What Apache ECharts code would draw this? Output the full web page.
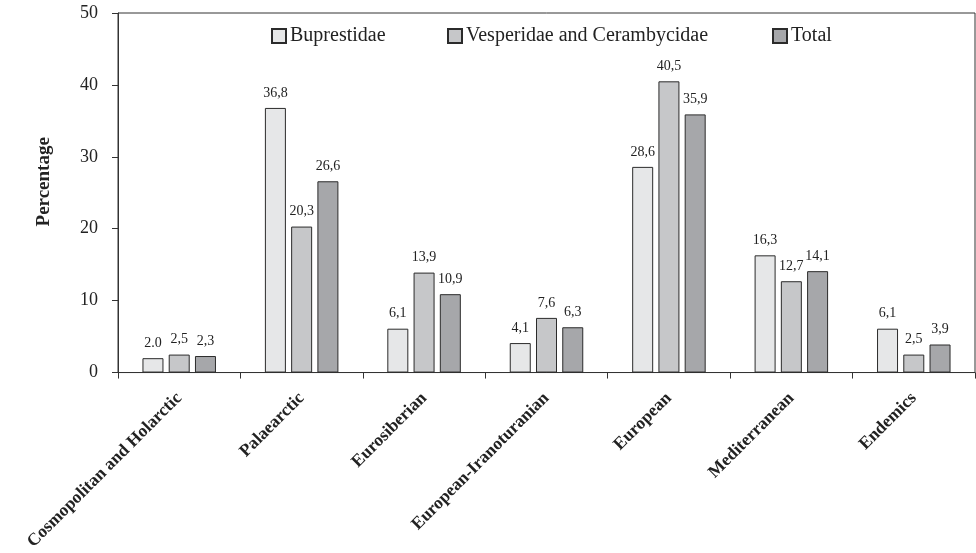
<!DOCTYPE html>
<html>
<head>
<meta charset="utf-8">
<script src="https://cdn.jsdelivr.net/npm/echarts@6/dist/echarts.min.js"></script>
<style>
html,body{margin:0;padding:0;background:#fff;}
#chart{width:976px;height:553px;}
</style>
</head>
<body>
<div id="chart"></div>
<script>
var categories = ['Cosmopolitan and Holarctic', 'Palaearctic', 'Eurosiberian', 'European-Iranoturanian', 'European', 'Mediterranean', 'Endemics'];
var seriesNames = ['Buprestidae', 'Vesperidae and Cerambycidae', 'Total'];
var buprestidae = [2.0, 36.8, 6.1, 4.1, 28.6, 16.3, 6.1];
var vesperidae = [2.5, 20.3, 13.9, 7.6, 40.5, 12.7, 2.5];
var total = [2.3, 26.6, 10.9, 6.3, 35.9, 14.1, 3.9];
var buprestidaeLabels = ['2.0', '36,8', '6,1', '4,1', '28,6', '16,3', '6,1'];
var vesperidaeLabels = ['2,5', '20,3', '13,9', '7,6', '40,5', '12,7', '2,5'];
var totalLabels = ['2,3', '26,6', '10,9', '6,3', '35,9', '14,1', '3,9'];
var yTicks = [0, 10, 20, 30, 40, 50];

var FONT = '"Liberation Serif", "Times New Roman", serif';
var colors = ['#e6e7e8', '#c6c7c9', '#a6a7aa'];
var values = [buprestidae, vesperidae, total];
var labels = [buprestidaeLabels, vesperidaeLabels, totalLabels];

var chart = echarts.init(document.getElementById('chart'), null, {renderer: 'canvas'});

var series = seriesNames.map(function (name, i) {
  return {
    name: name,
    type: 'bar',
    barWidth: 21,
    barGap: '25%',
    data: values[i],
    itemStyle: {color: colors[i], borderColor: '#2b2b2b', borderWidth: 1},
    label: {
      show: true,
      position: 'top',
      distance: 8,
      fontFamily: FONT,
      fontSize: 14,
      color: '#222',
      formatter: function (p) { return labels[i][p.dataIndex]; }
    }
  };
});

var legendLefts = [266, 442, 767];
var legends = seriesNames.map(function (name, i) {
  return {
    data: [name],
    left: legendLefts[i],
    top: 21,
    itemWidth: 14,
    itemHeight: 14,
    icon: 'rect',
    selectedMode: false,
    textStyle: {fontFamily: FONT, fontSize: 20, color: '#222', padding: [0, 0, 0, -1]}
  };
});

chart.setOption({
  animation: false,
  backgroundColor: '#fff',
  legend: legends,
  grid: {left: 118, right: 1, top: 13, bottom: 180, show: true, borderColor: '#333', borderWidth: 1, containLabel: false},
  xAxis: {
    type: 'category',
    data: categories,
    axisLine: {lineStyle: {color: '#333', width: 1}},
    axisTick: {show: true, length: 6, lineStyle: {color: '#333'}},
    axisLabel: {
      rotate: 45,
      margin: 23,
      interval: 0,
      fontFamily: FONT,
      fontWeight: 'bold',
      fontSize: 17.5,
      color: '#222'
    }
  },
  yAxis: {
    type: 'value',
    min: yTicks[0],
    max: yTicks[yTicks.length - 1],
    interval: 10,
    name: 'Percentage',
    nameLocation: 'middle',
    nameGap: 64,
    nameTextStyle: {fontFamily: FONT, fontWeight: 'bold', fontSize: 19, color: '#222', padding: [0, 0, 0, 22]},
    axisLine: {show: true, lineStyle: {color: '#333', width: 1}},
    axisTick: {show: true, length: 6, lineStyle: {color: '#333'}},
    axisLabel: {fontFamily: FONT, fontSize: 18, color: '#222', margin: 20},
    splitLine: {show: false}
  },
  series: series
});
</script>
</body>
</html>
